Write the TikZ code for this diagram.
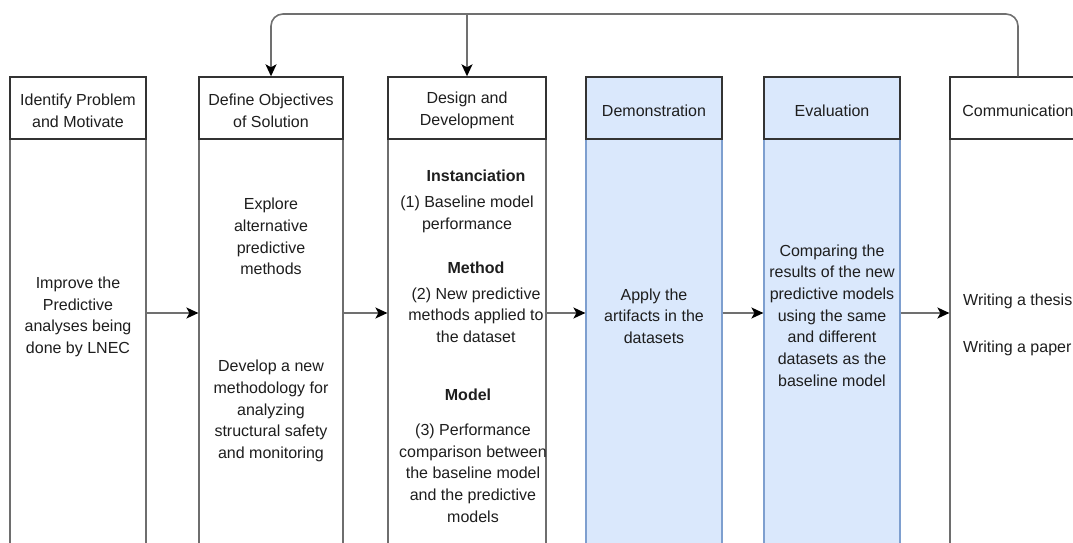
\documentclass[tikz,border=0pt]{standalone}
\usepackage{fontspec}
\setmainfont{Liberation Sans}
\usetikzlibrary{arrows.meta}
\definecolor{hdrline}{HTML}{333333}
\definecolor{bodyline}{HTML}{6E6E6E}
\definecolor{blueline}{HTML}{7E9FCF}
\definecolor{bluefill}{HTML}{DAE8FC}
\definecolor{flowline}{HTML}{707070}
\definecolor{ink}{HTML}{1E1E1E}
\begin{document}
\begin{tikzpicture}[x=1pt,y=-1pt,
  lbl/.style={font=\fontsize{16}{21.7}\selectfont, text=ink, align=center, inner sep=0pt},
  bold/.style={lbl, font=\fontsize{16}{21.7}\selectfont\bfseries},
  hdr/.style={draw=hdrline, line width=1.4pt, fill=white, minimum height=62pt, inner sep=0pt},
  bodybox/.style={draw=bodyline, line width=1.2pt, fill=white, minimum height=481pt, inner sep=0pt},
  bluehdr/.style={hdr, fill=bluefill},
  bluebody/.style={bodybox, draw=blueline, fill=bluefill},
  flow/.style={draw=flowline, line width=1.6pt, -{Stealth[length=12pt,width=11pt,inset=3pt,color=black]}}
]
\clip (0,0) rectangle (1073,543);
\useasboundingbox (0,0) rectangle (1073,543);

\coordinate (row) at (0,313);
\coordinate (loop) at (0,14);

% column bodies
\node[bodybox, minimum width=136pt] (b1) at (78,379.5) {};
\node[bodybox, minimum width=144pt] (b2) at (271,379.5) {};
\node[bodybox, minimum width=158pt] (b3) at (467,379.5) {};
\node[bluebody, minimum width=136pt] (b4) at (654,379.5) {};
\node[bluebody, minimum width=136pt] (b5) at (832,379.5) {};
\node[bodybox, minimum width=136pt] (b6) at (1018,379.5) {};

% column headers
\node[hdr, minimum width=136pt] (h1) at (78,108) {};
\node[hdr, minimum width=144pt] (h2) at (271,108) {};
\node[hdr, minimum width=158pt] (h3) at (467,108) {};
\node[bluehdr, minimum width=136pt] (h4) at (654,108) {};
\node[bluehdr, minimum width=136pt] (h5) at (832,108) {};
\node[hdr, minimum width=136pt] (h6) at (1018,108) {};

% header titles
\node[lbl] (l1) at (78,110.5) {Identify Problem\\and Motivate};
\node[lbl] (l2) at (271,110.5) {Define Objectives\\of Solution};
\node[lbl] (l3) at (467,110.5) {Design and\\Development};
\node[lbl] (l4) at (654,110.5) {Demonstration};
\node[lbl] (l5) at (832,110.5) {Evaluation};
\node[lbl] (l6) at (1018,110.5) {Communication};

% column contents
\node[lbl] (t1) at (78,317) {Improve the\\Predictive\\analyses being\\done by LNEC};
\node[lbl] (t2a) at (271,236.5) {Explore\\alternative\\predictive\\methods};
\node[lbl] (t2b) at (271,411) {Develop a new\\methodology for\\analyzing\\structural safety\\and monitoring};

\node[bold] (k1) at (476,176) {Instanciation};
\node[lbl] (t3a) at (467,214.5) {(1) Baseline model\\performance};
\node[bold] (k2) at (476,268) {Method};
\node[lbl] (t3b) at (476,315) {(2) New predictive\\methods applied to\\the dataset};
\node[bold] (k3) at (468,395) {Model};
\node[lbl] (t3c) at (473,473) {(3) Performance\\comparison between\\the baseline model\\and the predictive\\models};

\node[lbl] (t4) at (654,316) {Apply the\\artifacts in the\\datasets};
\node[lbl] (t5) at (832,315.5) {Comparing the\\results of the new\\predictive models\\using the same\\and different\\datasets as the\\baseline model};

\node[lbl, anchor=west] (t6a) at (963,301) {Writing a thesis};
\node[lbl, anchor=west] (t6b) at (963,348) {Writing a paper};

% forward flow between columns
\draw[flow] (b1.east |- row) -- (b2.west |- row);
\draw[flow] (b2.east |- row) -- (b3.west |- row);
\draw[flow] (b3.east |- row) -- (b4.west |- row);
\draw[flow] (b4.east |- row) -- (b5.west |- row);
\draw[flow] (b5.east |- row) -- (b6.west |- row);

% feedback loop from communication
\draw[flow, rounded corners=12pt] (h6.north) -- (h6.north |- loop) -- (h2.north |- loop) -- (h2.north);
\draw[flow] (h3.north |- loop) -- (h3.north);
\end{tikzpicture}
\end{document}
